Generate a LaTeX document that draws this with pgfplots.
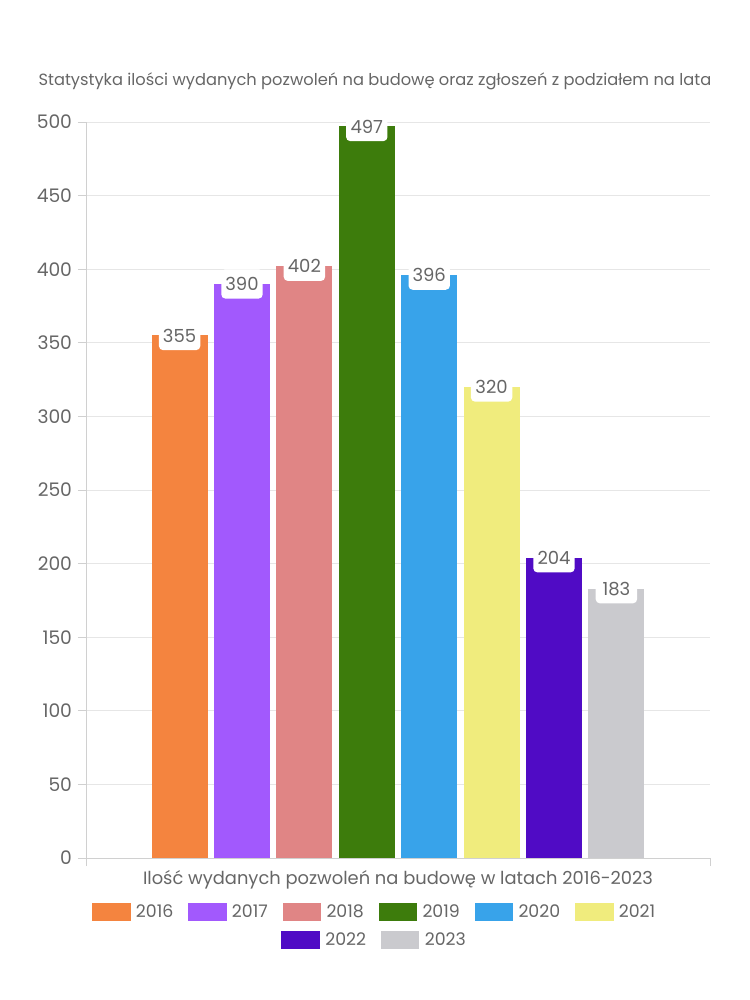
\documentclass[border=0pt]{standalone}
\usepackage{pgfplots}
\pgfplotsset{compat=1.18}
\usepackage{fontspec}
\setmainfont{Poppins}

\definecolor{c16}{HTML}{F4843F}
\definecolor{c17}{HTML}{A259FD}
\definecolor{c18}{HTML}{E08585}
\definecolor{c19}{HTML}{3D7C0C}
\definecolor{c20}{HTML}{38A3EA}
\definecolor{c21}{HTML}{F0EC7D}
\definecolor{c22}{HTML}{500BC5}
\definecolor{c23}{HTML}{CACACE}
\definecolor{txt}{HTML}{666666}
\definecolor{gridc}{HTML}{E6E6E6}
\definecolor{axc}{HTML}{D0D0D0}

\pgfplotsset{
  base/.style={
    scale only axis, width=468pt, height=552pt,
    at={(64.5pt,106.5pt)}, anchor=south west,
    xmin=-0.5, xmax=9.5, ymin=0, ymax=500,
  },
  swatch/.style={legend image code/.code={\fill[##1] (0pt,-7pt) rectangle (29pt,7pt);}},
  leg/.style={legend style={draw=none, fill=none, anchor=center, font=\fontsize{13}{15}\selectfont,
    text=txt, /tikz/every even column/.append style={column sep=9pt},
    /tikz/every odd column/.append style={column sep=2pt}}, legend cell align=left},
}

\begin{document}
\begin{tikzpicture}
\useasboundingbox (0,0) rectangle (562.5pt,750pt);
\begin{axis}[base, swatch, leg,
  legend columns=6, legend style={at={(0.463,-0.0734)}},
  axis x line*=bottom, axis y line*=left,
  axis line style={axc, -}, tick style={axc, line width=0.6pt}, tick align=outside,
  major tick length=6pt,
  xtick={-0.5,9.5}, xticklabels={},
  ytick={0,50,...,500},
  ymajorgrids, grid style={gridc, line width=0.6pt},
  /pgf/number format/assume math mode=true,
  tick label style={font=\fontsize{14}{16}\selectfont, text=txt},
  yticklabel style={xshift=-1pt},
  title={Statystyka ilości wydanych pozwoleń na budowę oraz zgłoszeń z podziałem na lata},
  title style={at={(0.463,1.044)}, anchor=center, font=\fontsize{12.2}{14}\selectfont, text=txt},
  xlabel={Ilość wydanych pozwoleń na budowę w latach 2016-2023},
  xlabel style={at={(0.5,-0.030)}, anchor=center, font=\fontsize{13.4}{15}\selectfont, text=txt},
  every axis plot/.append style={ybar, bar width=0.9, bar shift=0pt, draw=none},
  nodes near coords,
  every node near coord/.append style={anchor=center, fill=white, rounded corners=3pt,
    minimum width=31pt, minimum height=22pt, inner sep=1pt, text=txt,
    font=\fontsize{13.5}{15}\selectfont},
]
\addplot[fill=c16] coordinates {(1,355)};
\addlegendentry{2016}
\addplot[fill=c17] coordinates {(2,390)};
\addlegendentry{2017}
\addplot[fill=c18] coordinates {(3,402)};
\addlegendentry{2018}
\addplot[fill=c19] coordinates {(4,497)};
\addlegendentry{2019}
\addplot[fill=c20] coordinates {(5,396)};
\addlegendentry{2020}
\addplot[fill=c21] coordinates {(6,320)};
\addlegendentry{2021}
\addplot[fill=c22, forget plot] coordinates {(7,204)};
\addplot[fill=c23, forget plot] coordinates {(8,183)};
\end{axis}
\begin{axis}[base, swatch, leg, hide axis,
  legend columns=2, legend style={at={(0.463,-0.1114)}}]
\addlegendimage{fill=c22, draw=none}
\addlegendentry{2022}
\addlegendimage{fill=c23, draw=none}
\addlegendentry{2023}
\end{axis}
\end{tikzpicture}
\end{document}
